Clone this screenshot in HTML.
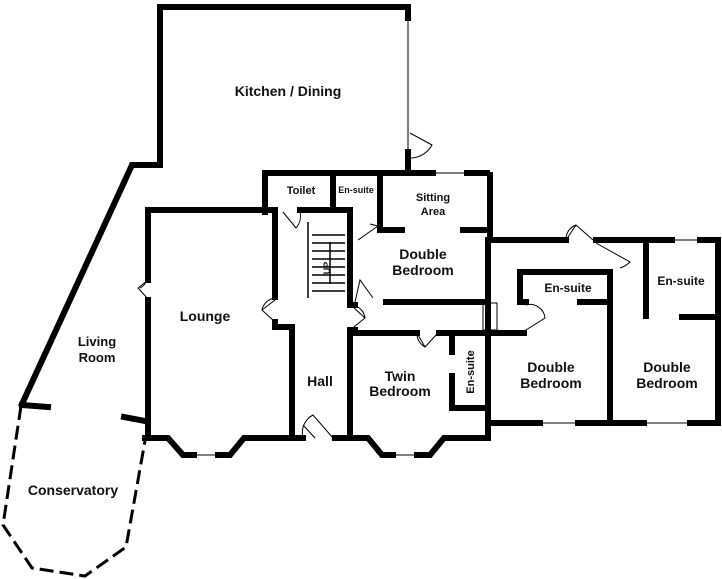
<!DOCTYPE html>
<html><head><style>
html,body{margin:0;padding:0;background:#fff;}
svg{display:block;}
text{font-family:"Liberation Sans",Arial,sans-serif;font-weight:bold;fill:#111;text-anchor:middle;}
</style></head><body>
<svg width="722" height="579" viewBox="0 0 722 579" xmlns="http://www.w3.org/2000/svg">
<g stroke="#000" stroke-width="6" fill="none" stroke-linecap="square">
<!-- kitchen -->
<polyline points="408,18 408,7 160,7 160,165 132,165 22,404"/>
<line x1="408" y1="152" x2="408" y2="168"/>
<!-- top row -->
<polyline points="265,210 265,215 265,173 433,173"/>
<line x1="467" y1="173" x2="487" y2="173"/>
<polyline points="490,175 490,240"/>
<line x1="333" y1="173" x2="333" y2="208"/>
<polyline points="380,173 380,230 402,230"/>
<line x1="463" y1="230" x2="487" y2="230"/>
<!-- lounge -->
<polyline points="148,280 148,210 275,210 275,297"/>
<line x1="148" y1="300" x2="148" y2="438"/>
<polyline points="275,322 275,327 292,327 292,436"/>
<line x1="300" y1="210" x2="350" y2="210"/>
<line x1="305" y1="210" x2="310" y2="210"/>
<polyline points="350,210 350,305 355,305"/>
<line x1="386" y1="302" x2="487" y2="302"/>
<polyline points="355,330 350,330 350,438"/>
<line x1="350" y1="333" x2="417" y2="333"/>
<line x1="439" y1="333" x2="524" y2="333"/>
<line x1="452" y1="333" x2="452" y2="352"/>
<polyline points="452,376 452,408 487,408"/>
<line x1="488" y1="240" x2="488" y2="425"/>
<!-- right wing -->
<line x1="488" y1="240" x2="566" y2="240"/>
<polyline points="596,240 672,240"/>
<line x1="700" y1="240" x2="718" y2="240"/>
<line x1="718" y1="240" x2="718" y2="423"/>
<line x1="488" y1="423" x2="540" y2="423"/>
<line x1="578" y1="423" x2="644" y2="423"/>
<line x1="690" y1="423" x2="718" y2="423"/>
<line x1="610" y1="272" x2="610" y2="423"/>
<polyline points="520,300 520,272 610,272"/>
<line x1="520" y1="302" x2="526" y2="302"/>
<line x1="580" y1="302" x2="610" y2="302"/>
<line x1="646" y1="245" x2="646" y2="316"/>
<line x1="682" y1="317" x2="718" y2="317"/>
<!-- bottom -->
<polyline points="145,438 168,438 183,455 194,455"/>
<polyline points="218,455 230,455 244,438 290,438"/>
<polyline points="335,438 368,438 382,455 393,455"/>
<polyline points="417,455 430,455 444,438 488,438 488,425"/>
<line x1="292" y1="438" x2="303" y2="438"/>
<!-- living room stubs -->
<line x1="22" y1="405" x2="48" y2="407"/>
<line x1="124" y1="417" x2="145" y2="421"/>
</g>
<g stroke="#000" stroke-width="3" fill="none" stroke-dasharray="14,6">
<polyline points="21,406 3,525 32,568 85,576 126,547 145,441"/>
</g>
<g stroke="#000" stroke-width="1" fill="none">
<line x1="408" y1="20" x2="408" y2="150"/>
<line x1="433" y1="173" x2="467" y2="173"/>
<line x1="672" y1="240" x2="700" y2="240"/>
<line x1="540" y1="423" x2="578" y2="423"/>
<line x1="644" y1="423" x2="690" y2="423"/>
<line x1="194" y1="455" x2="218" y2="455"/>
<line x1="393" y1="455" x2="417" y2="455"/>
<!-- doors -->
<path d="M410,133 L432,145 A25,25 0 0 1 410,158"/>
<path d="M283,212 L296,228 M300,212 A18,18 0 0 1 296,228"/>
<path d="M148,280 L138,288 L148,299 M140,288 A15,15 0 0 0 148,276"/>
<path d="M275,300 L262,310 L275,322 M262,310 A15,15 0 0 1 275,298"/>
<path d="M350,330 L365,318 L352,306 M365,318 A15,15 0 0 0 352,305"/>
<path d="M355,302 L360,280 L373,298"/>
<path d="M315,438 L303,425 M333,438 L313,415 A20,20 0 0 0 303,438"/>
<path d="M417,333 L425,347 L437,334 M425,347 A15,15 0 0 1 417,333"/>
<path d="M566,240 L576,225 L593,240 M566,240 A15,15 0 0 1 576,225"/>
<path d="M596,243 L630,262 A25,25 0 0 1 620,268"/>
<path d="M526,330 L545,318 A15,15 0 0 0 526,305"/>
<path d="M358,240 L378,226 L370,224"/>
<rect x="483" y="303" width="14" height="27"/>
<line x1="490" y1="303" x2="490" y2="330"/>
</g>
<!-- stairs -->
<g stroke="#000" stroke-width="1.5">
<line x1="308" y1="222" x2="308" y2="298"/>
<line x1="312" y1="235" x2="345" y2="235"/>
<line x1="312" y1="243" x2="345" y2="243"/>
<line x1="312" y1="251" x2="345" y2="251"/>
<line x1="312" y1="259" x2="345" y2="259"/>
<line x1="312" y1="267" x2="345" y2="267"/>
<line x1="312" y1="275" x2="345" y2="275"/>
<line x1="312" y1="283" x2="345" y2="283"/>
<line x1="312" y1="291" x2="345" y2="291"/>
<line x1="330" y1="242" x2="330" y2="284"/>
</g>
<text x="330" y="268" font-size="9" transform="rotate(-90 330 268)">UP</text>
<text x="288" y="96" font-size="14">Kitchen / Dining</text>
<text x="301" y="194" font-size="11">Toilet</text>
<text x="356" y="193" font-size="9">En-suite</text>
<text x="433" y="201" font-size="11">Sitting</text>
<text x="433" y="215" font-size="11">Area</text>
<text x="423" y="259" font-size="14">Double</text>
<text x="423" y="275" font-size="14">Bedroom</text>
<text x="205" y="321" font-size="14">Lounge</text>
<text x="97" y="346" font-size="13">Living</text>
<text x="97" y="362" font-size="13">Room</text>
<text x="320" y="386" font-size="14">Hall</text>
<text x="400" y="381" font-size="14">Twin</text>
<text x="400" y="396" font-size="14">Bedroom</text>
<text x="470" y="372" font-size="11" transform="rotate(-90 472 370)">En-suite</text>
<text x="568" y="292" font-size="12">En-suite</text>
<text x="681" y="285" font-size="12">En-suite</text>
<text x="551" y="372" font-size="14">Double</text>
<text x="551" y="388" font-size="14">Bedroom</text>
<text x="667" y="372" font-size="14">Double</text>
<text x="667" y="388" font-size="14">Bedroom</text>
<text x="73" y="495" font-size="14">Conservatory</text>
</svg>
</body></html>
